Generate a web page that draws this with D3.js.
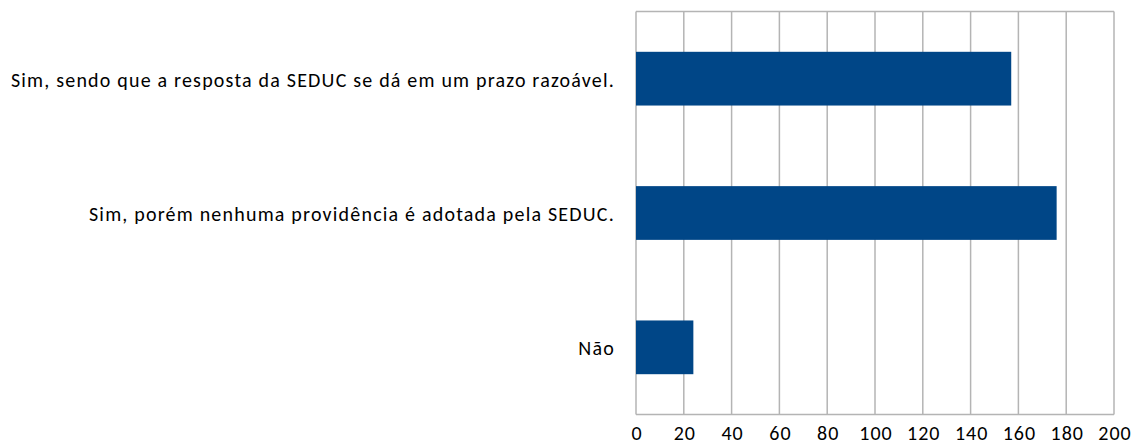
<!DOCTYPE html>
<html><head><meta charset="utf-8">
<script src="https://cdn.jsdelivr.net/npm/d3@7"></script>
<style>body{margin:0;background:#fff}svg{display:block}</style>
</head><body>
<script>
const categories = [
  "Sim, sendo que a resposta da SEDUC se dá em um prazo razoável.",
  "Sim, porém nenhuma providência é adotada pela SEDUC.",
  "Não"
];
const values = [157, 176, 24];
const tickValues = [0, 20, 40, 60, 80, 100, 120, 140, 160, 180, 200];

const W = 1139, H = 443;
const m = {left: 636, right: 25, top: 11.5, bottom: 28.5};
const svg = d3.select("body").append("svg").attr("width", W).attr("height", H);
const font = "Carlito, Calibri, 'Open Sans', sans-serif";

const x = d3.scaleLinear().domain([0, 200]).range([m.left, W - m.right]);
const y = d3.scaleBand().domain(categories).range([m.top, H - m.bottom]).paddingInner(0.6).paddingOuter(0.3);

// gridlines
svg.append("g").selectAll("line").data(tickValues).join("line")
  .attr("x1", d => x(d)).attr("x2", d => x(d))
  .attr("y1", m.top).attr("y2", H - m.bottom)
  .attr("stroke", "#b4b4b4").attr("stroke-width", 1.5);
svg.append("line").attr("x1", x(0)).attr("x2", x(200)).attr("y1", m.top).attr("y2", m.top)
  .attr("stroke", "#b4b4b4").attr("stroke-width", 1.5);
svg.append("line").attr("x1", x(0)).attr("x2", x(200)).attr("y1", H - m.bottom).attr("y2", H - m.bottom)
  .attr("stroke", "#b4b4b4").attr("stroke-width", 1.5);

// bars
svg.append("g").selectAll("rect").data(values).join("rect")
  .attr("x", x(0)).attr("y", (d, i) => y(categories[i]))
  .attr("width", d => x(d) - x(0)).attr("height", y.bandwidth())
  .attr("fill", "#004687");

// x axis tick labels
const xAxis = d3.axisBottom(x).tickValues(tickValues).tickSize(0).tickPadding(0);
const gx = svg.append("g").attr("transform", `translate(0,${H - m.bottom})`).call(xAxis);
gx.select(".domain").remove();
gx.selectAll("text").attr("font-family", font).attr("font-size", 20).attr("fill", "#000")
  .attr("letter-spacing", 1).attr("dy", null).attr("y", 25.5).attr("dx", 0.5);

// y axis labels
const yAxis = d3.axisLeft(y).tickSize(0).tickPadding(21);
const gy = svg.append("g").attr("transform", `translate(${m.left},0)`).call(yAxis);
gy.select(".domain").remove();
gy.selectAll("text").attr("font-family", font).attr("font-size", 20).attr("fill", "#000")
  .attr("letter-spacing", 1.2).attr("dy", "0.4em");
</script>
</body></html>
